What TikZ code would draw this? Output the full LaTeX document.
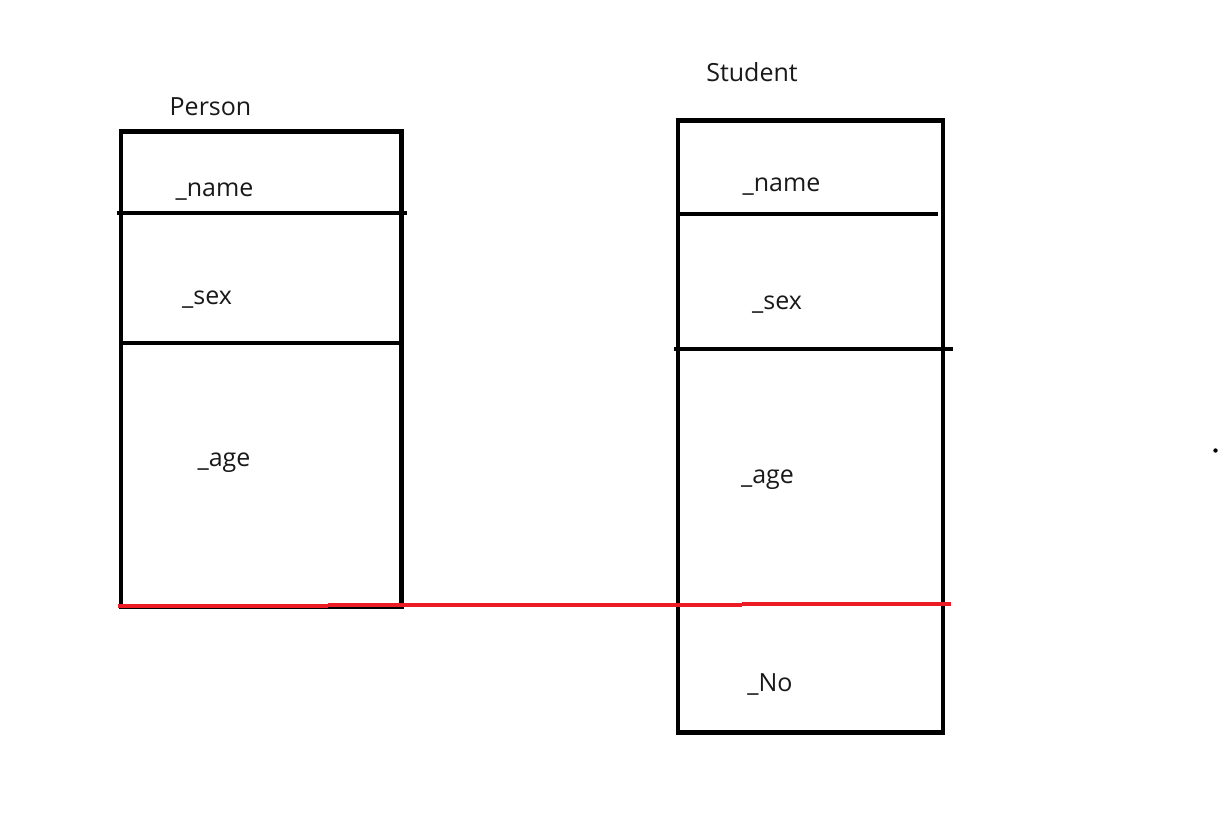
\documentclass[tikz,border=0pt]{standalone}
\usepackage{fontspec}
\setmainfont{Open Sans}
\definecolor{redline}{RGB}{237,28,36}
\tikzset{
  boxline/.style={draw=black, line width=4.3pt},
  sepline/.style={draw=black, line width=4.3pt},
  redseg/.style={draw=redline, line width=4pt},
  lbl/.style={anchor=base, inner sep=0pt, font=\fontsize{25}{29}\selectfont, text=black!90}
}
\begin{document}
\begin{tikzpicture}[x=1pt, y=-1pt]
\useasboundingbox[fill=white] (0,0) rectangle (1222,814);
% Person box
\draw[boxline] (121,131.5) rectangle (401.5,607);
\coordinate (p1a) at (117,213); \coordinate (p1b) at (407,213);
\draw[sepline] (p1a) -- (p1b);
\coordinate (p2a) at (121,343); \coordinate (p2b) at (401.5,343);
\draw[sepline] (p2a) -- (p2b);
% Student box
\draw[boxline] (678,120.5) rectangle (943,732.5);
\coordinate (s1a) at (678,214); \coordinate (s1b) at (938,214);
\draw[sepline] (s1a) -- (s1b);
\coordinate (s2a) at (674,349); \coordinate (s2b) at (953,349);
\draw[sepline] (s2a) -- (s2b);
% red line
\coordinate (r0) at (118,606); \coordinate (r1) at (328,606);
\coordinate (r2) at (328,605); \coordinate (r3) at (742,605);
\coordinate (r4) at (742,604); \coordinate (r5) at (951,604);
\draw[redseg] (r0) -- (r1);
\draw[redseg] (r2) -- (r3);
\draw[redseg] (r4) -- (r5);
% dot
\fill[black] (1215.5,450.5) circle (2.2);
% labels
\node[lbl] (personT) at (210.5,115) {Person};
\node[lbl] (pname) at (214.5,196.5) {\_name};
\node[lbl] (psex) at (207,304) {\_sex};
\node[lbl] (page) at (224,466.5) {\_age};
\node[lbl] (studentT) at (752,81.5) {Student};
\node[lbl] (sname) at (781.5,191.5) {\_name};
\node[lbl] (ssex) at (777,309) {\_sex};
\node[lbl] (sage) at (767.5,483.5) {\_age};
\node[lbl] (sno) at (770,691) {\_No};
\end{tikzpicture}
\end{document}
